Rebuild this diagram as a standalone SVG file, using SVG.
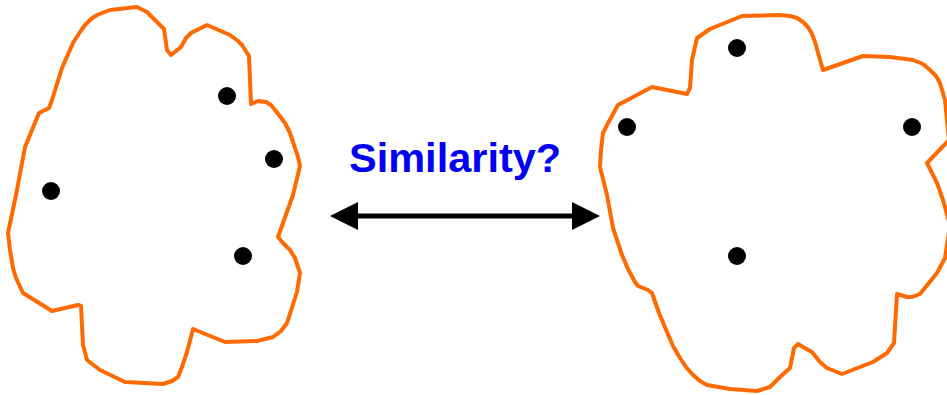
<svg xmlns="http://www.w3.org/2000/svg" width="947" height="395" viewBox="0 0 947 395">
<style>
.blob{fill:none;stroke:#FF6A00;stroke-width:4;stroke-linejoin:round;stroke-linecap:round}
.dot{fill:#000}
.lbl{font-family:"Liberation Sans",Arial,sans-serif;font-weight:bold;font-size:41.5px;fill:#0000F5}
</style>
<rect width="947" height="395" fill="#fff"/>
<g id="setA">
<path class="blob" d="M137,7 L147,12 L164,29 L167,50 L171,55 L181,47 L186,38 L191,33 L207,25 L230,35 L238,41 L242,45 L249,56 L251,104 L258,101 L266,102 L271,105 L279,115 L285,123 L290,133 L294,145 L298,157 L300,166 L293,195 L278,237 L283,243 L290,250 L295,258 L300,273 L297,292 L287,323 L281,331 L273,337 L257,341 L225,342 L193,329 L187,352 L182,367 L178,377 L172,381 L163,384 L125,382 L100,370 L87,360 L83,345 L81,306 L78,305 L52,311 L23,293 L16,278 L13,268 L10,250 L8,233 L16,195 L25,147 L39,113 L49,108 L52,100 L62,68 L73,43 L80,32 L85,25 L91,19 L97,15 L110,10 Z"/>
<circle class="dot" cx="227" cy="96" r="9"/>
<circle class="dot" cx="274" cy="159" r="9"/>
<circle class="dot" cx="51" cy="191" r="9"/>
<circle class="dot" cx="243" cy="256" r="9"/>
</g>
<g id="setB">
<path class="blob" d="M742,16 L780,15 L790,16 L797,18 L803,22 L808,27 L812,34 L815,42 L823,70 L843,63 L863,56 L890,57 L913,60 L923,64 L930,70 L936,76 L940,83 L945,100 L949,140 L927,163 L937,183 L943,200 L950,225 L945,258 L937,273 L920,294 L912,297 L907,297 L897,294 L894,343 L887,353 L873,362 L842,374 L827,368 L820,362 L812,352 L803,347 L798,344 L794,348 L790,368 L780,377 L770,387 L757,391 L730,389 L707,385 L700,381 L693,375 L686,367 L680,358 L673,346 L667,332 L659,313 L652,293 L648,290 L638,286 L635,282 L628,269 L622,255 L613,228 L607,195 L600,167 L601,150 L603,133 L607,125 L618,105 L652,87 L687,94 L690,88 L692,60 L697,38 L710,29 Z"/>
<circle class="dot" cx="737" cy="48" r="9"/>
<circle class="dot" cx="627" cy="127" r="9"/>
<circle class="dot" cx="912" cy="127" r="9"/>
<circle class="dot" cx="737" cy="256" r="9"/>
</g>
<g id="connectors">
<line x1="355" y1="216" x2="575" y2="216" stroke="#000" stroke-width="5"/>
<polygon points="330,216 358,202 358,230" fill="#000"/>
<polygon points="600,216 572,202 572,230" fill="#000"/>
</g>
<g id="label">
<text class="lbl" x="349" y="172">Similarity?</text>
</g>
</svg>
